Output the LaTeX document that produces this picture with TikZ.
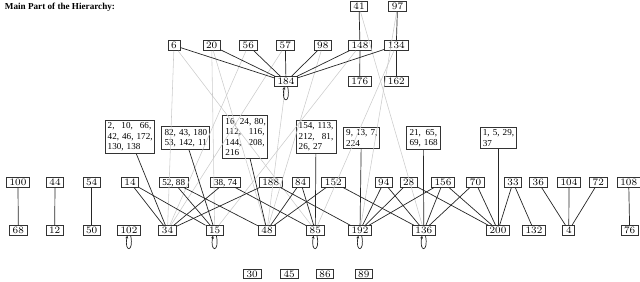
\documentclass[tikz,border=0pt]{standalone}
\usepackage{fontspec}
\usepackage{tikz}
\usetikzlibrary{arrows.meta}
\newfontfamily\timesfont{Liberation Serif}
\definecolor{faintgray}{HTML}{CCCCCC}
% one line stretched over the whole box
\newcommand\spreadline[1]{\leavevmode\hbox to\hsize{#1}}

\tikzset{
  nbox/.style={draw=black!80,line width=0.5pt,inner xsep=2.3pt,inner ysep=1.2pt,
    text height=4.6pt,text depth=0pt,font=\fontsize{7}{8}\selectfont},
  pairfont/.style={font=\timesfont\fontsize{6.5}{7.4}\selectfont},
  gbox/.style={draw=black!80,line width=0.5pt,inner xsep=2pt,inner ysep=1.8pt,
    align=left,text width=#1,font=\timesfont\fontsize{6.5}{7.4}\selectfont},
  edge/.style={black!85,line width=0.5pt},
  faint/.style={faintgray,line width=0.4pt},
  selfloop/.style={black!85,line width=0.5pt,-{Stealth[length=2pt,width=2pt]}}
}

\begin{document}
\begin{tikzpicture}[x=0.025cm,y=-0.025cm]
  \useasboundingbox (0,0) rectangle (640,282);
  \node[anchor=west,font=\timesfont\bfseries\fontsize{6.5}{7}\selectfont]
    (title) at (0,7) {Main Part of the Hierarchy:};

  % upper part
  \foreach \n/\x/\y in {41/359/6.5, 97/397.5/6.5,
      6/174/45.5, 20/211.7/45.5, 56/248.3/45.5, 57/285.3/45.5,
      98/322.8/45.5, 148/360/45.5, 134/396.3/45.5,
      184/286/81.7, 176/359.7/81.7, 162/396.3/81.7}
    \node[nbox] (n\n) at (\x,\y) {\n};

  % grouped boxes
  \node[gbox=31pt] (g2) at (129.5,137)
    {\spreadline{2,\hfill 10,\hfill 66,}\\\mbox{42, 46, 172,}\\\mbox{130, 138}};
  \node[gbox=29.5pt] (g82) at (185.3,138.3)
    {\mbox{82, 43, 180}\\\mbox{53, 142, 11}};
  \node[gbox=27.8pt] (g16) at (245,137)
    {\mbox{16, 24, 80,}\\\spreadline{112,\hfill 116,}\\\spreadline{144,\hfill 208,}\\216};
  \node[gbox=24.6pt] (g154) at (316,137)
    {\mbox{154, 113,}\\\spreadline{212,\hfill 81,}\\\mbox{26, 27}};
  \node[gbox=21.5pt] (g9) at (361.3,138) {\mbox{9, 13, 7,}\\224};
  \node[gbox=19.6pt] (g21) at (423.3,138) {\spreadline{21,\hfill 65,}\\\mbox{69, 168}};
  \node[gbox=21.5pt] (g1) at (498,138) {\mbox{1, 5, 29,}\\37};

  % middle row
  \foreach \n/\x in {100/18, 44/55, 54/91.7, 14/130, 188/270.7, 84/300.7,
      152/333.3, 94/383.8, 28/408.7, 156/443, 70/475.5, 33/513,
      36/538.3, 104/569, 72/598.3, 108/628.7}
    \node[nbox] (n\n) at (\x,182.3) {\n};
  \node[nbox,pairfont] (n52) at (173.7,182.3) {52, 88};
  \node[nbox,pairfont] (n38) at (225.5,182.3) {38, 74};

  % lower row
  \foreach \n/\x in {68/18.3, 12/54.7, 50/91.7, 102/129, 34/167.5,
      15/214.7, 48/267, 85/315.3, 192/360, 136/423.8, 200/498,
      132/534, 4/568.8, 76/629.7}
    \node[nbox] (n\n) at (\x,230.5) {\n};

  % isolated ones
  \foreach \n/\x in {30/252.2, 45/289.2, 86/325, 89/363.8}
    \node[nbox] (n\n) at (\x,273.8) {\n};

  % grey links
  \foreach \a/\b in {n6/n34, n6/n85, n20/n15, n20/n48, n56/n34, n57/n34,
      n98/n48, n148/n15, n134/n85, n97/n192, n41/n136, n184/n48}
    \draw[faint] (\a) -- (\b);

  % black links
  \foreach \a/\b in {n41/n148, n148/n176, n97/n134, n134/n162,
      n6/n184, n20/n184, n56/n184, n57/n184, n98/n184, n148/n184, n134/n184,
      n100/n68, n44/n12, n54/n50,
      g2/n34, g82/n15, g16/n48, g154/n85, g9/n192, g21/n136, g1/n200,
      n14/n34, n14/n15, n52/n15, n52/n48, n38/n34, n38/n85,
      n188/n34, n188/n192, n84/n48, n84/n85, n152/n48, n152/n136,
      n94/n192, n94/n136, n28/n192, n28/n200,
      n156/n192, n156/n136, n156/n200, n70/n136, n70/n200,
      n33/n200, n33/n132, n36/n4, n104/n4, n72/n4, n108/n76}
    \draw[edge] (\a) -- (\b);

  % self loops
  \foreach \n in {n184,n102,n15,n85,n192,n136}
    \draw[selfloop] ([xshift=1.2pt]\n.south) .. controls +(2.5pt,-12pt)
      and +(-2.5pt,-12pt) .. ([xshift=-1.2pt]\n.south);
\end{tikzpicture}
\end{document}
